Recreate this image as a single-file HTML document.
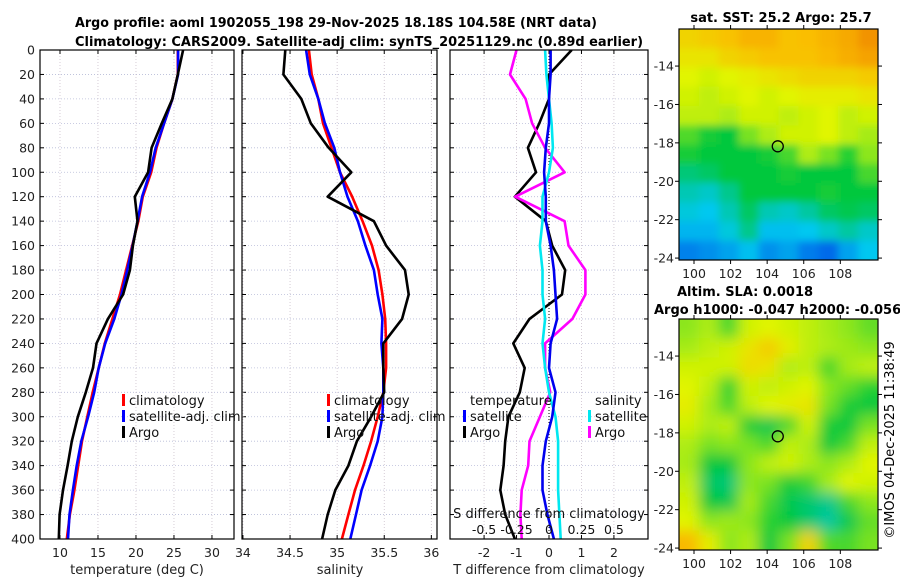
<!DOCTYPE html>
<html><head><meta charset="utf-8">
<style>
html,body{margin:0;padding:0;background:#fff;}
svg{display:block;font-family:"DejaVu Sans","Liberation Sans",sans-serif;}
</style></head>
<body>
<svg id="fig" width="900" height="580" viewBox="0 0 900 580" xmlns="http://www.w3.org/2000/svg">
<defs>
<filter id="blur1" x="-5%" y="-5%" width="110%" height="110%"><feGaussianBlur stdDeviation="4"/></filter>
<filter id="blur2" x="-5%" y="-5%" width="110%" height="110%"><feGaussianBlur stdDeviation="7"/></filter>
<clipPath id="clipMap1"><rect x="679" y="29" width="199" height="231"/></clipPath>
<clipPath id="clipMap2"><rect x="679" y="319" width="199" height="231"/></clipPath>
<clipPath id="clipP1"><rect x="40" y="50" width="194" height="489"/></clipPath>
<clipPath id="clipP2"><rect x="242" y="50" width="195" height="489"/></clipPath>
<clipPath id="clipP3"><rect x="450" y="50" width="198" height="489"/></clipPath>
</defs>
<text x="75" y="27" font-size="13" font-weight="bold" textLength="522" lengthAdjust="spacingAndGlyphs">Argo profile: aoml 1902055_198 29-Nov-2025 18.18S 104.58E (NRT data)</text>
<text x="75" y="46" font-size="13" font-weight="bold" textLength="568" lengthAdjust="spacingAndGlyphs">Climatology: CARS2009. Satellite-adj clim: synTS_20251129.nc (0.89d earlier)</text>
<text x="781" y="22" font-size="13" font-weight="bold" text-anchor="middle">sat. SST: 25.2 Argo: 25.7</text>
<text x="677" y="296" font-size="13" font-weight="bold">Altim. SLA: 0.0018</text>
<text x="654" y="314" font-size="13" font-weight="bold">Argo h1000: -0.047 h2000: -0.056</text>
<text transform="translate(894,440) rotate(-90)" font-size="13" text-anchor="middle">©IMOS 04-Dec-2025 11:38:49</text>
<g id="layer"></g>
</svg>
<script>
// ---- profile data ----
const depths = [0,20,40,60,80,100,120,140,160,180,200,220,240,260,280,300,320,340,360,380,400];
const climT = [25.5,25.5,24.8,23.7,22.7,22.0,20.9,20.3,19.5,18.7,17.9,16.9,15.9,15.1,14.3,13.6,12.9,12.4,11.9,11.3,10.9];
const satT  = [25.55,25.55,24.8,23.7,22.6,21.85,20.8,20.2,19.55,18.85,18.1,17.15,15.95,15.1,14.5,13.7,12.8,12.2,11.7,11.25,11.05];
const argoT = [26.2,25.5,24.8,23.4,22.05,21.6,19.85,20.2,19.6,19.2,18.3,16.3,14.8,14.35,13.4,12.35,11.55,11.0,10.4,9.95,9.85];
const climS = [34.70,34.73,34.80,34.85,34.94,35.03,35.16,35.27,35.37,35.44,35.48,35.51,35.52,35.52,35.49,35.43,35.36,35.28,35.19,35.12,35.05];
const satS  = [34.67,34.71,34.80,34.87,34.97,35.03,35.11,35.22,35.30,35.39,35.43,35.48,35.47,35.49,35.49,35.48,35.43,35.35,35.26,35.20,35.14];
const argoS = [34.45,34.43,34.62,34.72,34.91,35.15,34.90,35.39,35.52,35.72,35.76,35.69,35.49,35.49,35.50,35.36,35.21,35.12,34.98,34.90,34.84];
const depthTicks = [0,20,40,60,80,100,120,140,160,180,200,220,240,260,280,300,320,340,360,380,400];
const tTicks = [10,15,20,25,30];
const sTicks = [34,34.5,35,35.5,36];
const sTickLabels = ["34","34.5","35","35.5","36"];
const dTTicks = [-2,-1,0,1,2];
const dSTicks = [-0.5,-0.25,0,0.25,0.5];
const dSTickLabels = ["-0.5","-0.25","0","0.25","0.5"];
// ---- map data (normalised colour values 0..1), rows north->south ----
const mapLonTicks = [100,102,104,106,108];
const mapLatTicks = [-14,-16,-18,-20,-22,-24];
const sstGrid = [
[0.8,0.82,0.84,0.87,0.87,0.84,0.85,0.87,0.89,0.93],
[0.76,0.76,0.8,0.82,0.84,0.84,0.84,0.86,0.88,0.9],
[0.72,0.7,0.72,0.74,0.76,0.78,0.8,0.8,0.8,0.82],
[0.7,0.68,0.7,0.72,0.7,0.72,0.74,0.74,0.74,0.76],
[0.68,0.68,0.66,0.7,0.7,0.68,0.7,0.72,0.68,0.7],
[0.56,0.5,0.48,0.6,0.66,0.7,0.7,0.72,0.68,0.65],
[0.5,0.48,0.48,0.48,0.5,0.55,0.66,0.6,0.52,0.62],
[0.42,0.44,0.48,0.48,0.48,0.5,0.48,0.48,0.48,0.55],
[0.36,0.34,0.4,0.48,0.48,0.48,0.48,0.5,0.48,0.48],
[0.32,0.3,0.36,0.44,0.36,0.34,0.38,0.44,0.46,0.44],
[0.26,0.26,0.32,0.4,0.28,0.28,0.3,0.34,0.38,0.34],
[0.15,0.18,0.22,0.28,0.18,0.22,0.14,0.1,0.22,0.3]];
const slaGrid = [
[0.62,0.66,0.55,0.7,0.72,0.7,0.68,0.65,0.62,0.58],
[0.65,0.68,0.7,0.76,0.82,0.74,0.68,0.66,0.64,0.62],
[0.7,0.7,0.7,0.78,0.76,0.66,0.68,0.54,0.65,0.68],
[0.72,0.68,0.52,0.7,0.68,0.7,0.72,0.62,0.58,0.52],
[0.74,0.65,0.55,0.68,0.72,0.74,0.76,0.6,0.5,0.48],
[0.7,0.66,0.68,0.5,0.46,0.55,0.7,0.5,0.48,0.6],
[0.66,0.6,0.62,0.6,0.55,0.68,0.66,0.48,0.55,0.68],
[0.65,0.48,0.48,0.62,0.68,0.7,0.66,0.62,0.66,0.72],
[0.68,0.44,0.42,0.62,0.6,0.5,0.54,0.65,0.72,0.7],
[0.7,0.48,0.46,0.65,0.55,0.46,0.43,0.4,0.55,0.62],
[0.72,0.62,0.64,0.62,0.52,0.48,0.43,0.38,0.46,0.58],
[0.86,0.74,0.62,0.66,0.48,0.6,0.8,0.56,0.55,0.6]];
const argoLon = 104.58;
const argoLat = -18.18;

const NS = "http://www.w3.org/2000/svg";
const layer = document.getElementById('layer');
function mk(tag, attrs, parent) {
  const e = document.createElementNS(NS, tag);
  for (const k in attrs) e.setAttribute(k, attrs[k]);
  (parent || layer).appendChild(e);
  return e;
}
const Y0 = 50, Y1 = 539;
function yD(d) { return Y0 + d * (Y1 - Y0) / 400; }
const p1 = {x0:40, x1:234, v0:7.37, v1:32.9};
const p2 = {x0:242, x1:437, v0:33.99, v1:36.06};
const p3 = {x0:450, x1:648, v0:-3.05, v1:3.05};
function sx(p, v) { return p.x0 + (v - p.v0) * (p.x1 - p.x0) / (p.v1 - p.v0); }
function xDS(v) { return sx(p3, v * 4); }

function panelFrame(p, name, xticks, xlabels, yLabels) {
  const g = mk('g', {});
  
  
  depthTicks.forEach(d => {
    const l = mk('line', {x1:p.x0, x2:p.x1, y1:yD(d), y2:yD(d), stroke:'#b8bcd8', 'stroke-width':0.8, 'stroke-dasharray':'1,2'}, g);
    
    
    mk('line', {x1:p.x0, x2:p.x0+4, y1:yD(d), y2:yD(d), stroke:'#000', 'stroke-width':1}, g);
    mk('line', {x1:p.x1, x2:p.x1-4, y1:yD(d), y2:yD(d), stroke:'#000', 'stroke-width':1}, g);
    if (yLabels) {
      const t = mk('text', {x:p.x0-5, y:yD(d)+4.5, 'font-size':12.5, 'text-anchor':'end', fill:'#222'}, g);
      t.textContent = String(d);
      
      
    }
  });
  xticks.forEach((v, i) => {
    const x = sx(p, v);
    const l = mk('line', {x1:x, x2:x, y1:Y0, y2:Y1, stroke:'#ccc0cc', 'stroke-width':0.8, 'stroke-dasharray':'1,2'}, g);
    
    
    mk('line', {x1:x, x2:x, y1:Y1, y2:Y1-4, stroke:'#000'}, g);
    mk('line', {x1:x, x2:x, y1:Y0, y2:Y0+4, stroke:'#000'}, g);
    const t = mk('text', {x:x, y:557, 'font-size':12.5, 'text-anchor':'middle', fill:'#222'}, g);
    t.textContent = xlabels[i];
    
    
  });
  return g;
}
function frameRect(p, name) {
  const r = mk('rect', {x:p.x0, y:Y0, width:p.x1-p.x0, height:Y1-Y0, fill:'none', stroke:'#000', 'stroke-width':1.2});
  
  
}
function profile(p, vals, color, name, clip, xf) {
  const pts = vals.map((v, i) => (xf ? xf(v) : sx(p, v)).toFixed(1) + ',' + yD(depths[i]).toFixed(1)).join(' ');
  const pl = mk('polyline', {points:pts, fill:'none', stroke:color, 'stroke-width':2.6, 'stroke-linejoin':'round', 'clip-path':'url(#' + clip + ')'});
  
  
}
function xlab(x, txt, name) {
  const t = mk('text', {x:x, y:574, 'font-size':13, 'text-anchor':'middle', fill:'#222'});
  t.textContent = txt;
  
  
}
function legend(x, y, color, txt, name) {
  const g = mk('g', {});
  
  
  if (color) mk('rect', {x:x, y:y-10, width:3, height:12, fill:color}, g);
  const t = mk('text', {x:x+7, y:y+1, 'font-size':13, fill:'#111'}, g);
  t.textContent = txt;
}

// panel 1: temperature
panelFrame(p1, 'temperature-panel', tTicks, tTicks.map(String), true);
profile(p1, climT, '#ff0000', 'climatology-temperature-line', 'clipP1');
profile(p1, satT, '#0000ff', 'satellite-temperature-line', 'clipP1');
profile(p1, argoT, '#000000', 'argo-temperature-line', 'clipP1');
frameRect(p1, 'temperature-axes-frame');
xlab(137, 'temperature (deg C)', 'temperature-x-axis-title');
legend(122, 404, '#ff0000', 'climatology', 'legend-climatology');
legend(122, 420, '#0000ff', 'satellite-adj. clim', 'legend-satellite');
legend(122, 436, '#000000', 'Argo', 'legend-argo');

// panel 2: salinity
panelFrame(p2, 'salinity-panel', sTicks, sTickLabels, false);
profile(p2, climS, '#ff0000', 'climatology-salinity-line', 'clipP2');
profile(p2, satS, '#0000ff', 'satellite-salinity-line', 'clipP2');
profile(p2, argoS, '#000000', 'argo-salinity-line', 'clipP2');
frameRect(p2, 'salinity-axes-frame');
xlab(340, 'salinity', 'salinity-x-axis-title');
legend(327, 404, '#ff0000', 'climatology', 'legend-climatology-2');
legend(327, 420, '#0000ff', 'satellite-adj. clim', 'legend-satellite-2');
legend(327, 436, '#000000', 'Argo', 'legend-argo-2');

// panel 3: differences
panelFrame(p3, 'difference-panel', dTTicks, dTTicks.map(String), false);
const zl = mk('line', {x1:sx(p3,0), x2:sx(p3,0), y1:Y0, y2:Y1, stroke:'#000', 'stroke-width':1, 'stroke-dasharray':'1,2'});


const satSD = satS.map((v, i) => v - climS[i]);
const argoSD = argoS.map((v, i) => v - climS[i]);
const satTD = satT.map((v, i) => v - climT[i]);
const argoTD = argoT.map((v, i) => v - climT[i]);
profile(p3, argoTD, '#000000', 'argo-temperature-diff-line', 'clipP3');
profile(p3, argoSD, '#ff00ff', 'argo-salinity-diff-line', 'clipP3', xDS);
profile(p3, satSD, '#00e8f0', 'satellite-salinity-diff-line', 'clipP3', xDS);
profile(p3, satTD, '#0000ee', 'satellite-temperature-diff-line', 'clipP3');
frameRect(p3, 'difference-axes-frame');
xlab(549, 'T difference from climatology', 'temperature-diff-x-axis-title');
const sdt = mk('text', {x:549, y:518, 'font-size':13, 'text-anchor':'middle', fill:'#111'});
sdt.textContent = 'S difference from climatology';


dSTicks.forEach((v, i) => {
  const t = mk('text', {x:xDS(v), y:534, 'font-size':12.5, 'text-anchor':'middle', fill:'#111'});
  t.textContent = dSTickLabels[i];
  
  
});
const tl1 = mk('text', {x:470, y:405, 'font-size':13, fill:'#111'});
tl1.textContent = 'temperature';


legend(463, 420, '#0000ff', 'satellite', 'legend-temp-satellite');
legend(463, 436, '#000000', 'Argo', 'legend-temp-argo');
const tl2 = mk('text', {x:595, y:405, 'font-size':13, fill:'#111'});
tl2.textContent = 'salinity';


legend(588, 420, '#00e8f0', 'satellite', 'legend-sal-satellite');
legend(588, 436, '#ff00ff', 'Argo', 'legend-sal-argo');

// ---- maps ----
function cmap(v) {
  const stops = [[0,[0,60,230]],[0.3,[0,200,240]],[0.48,[0,200,60]],[0.62,[140,230,30]],[0.72,[225,245,0]],[0.85,[250,190,0]],[1,[235,110,0]]];
  for (let i = 1; i < stops.length; i++) {
    if (v <= stops[i][0]) {
      const a = stops[i-1], b = stops[i], f = (v - a[0]) / (b[0] - a[0]);
      return 'rgb(' + a[1].map((c, k) => Math.round(c + (b[1][k] - c) * f)).join(',') + ')';
    }
  }
  return 'rgb(235,110,0)';
}
const MX0 = 679, MX1 = 878, LON0 = 99.18, LON1 = 110.06, LAT0 = -12.07, LAT1 = -24.1;
function mapX(lon) { return MX0 + (lon - LON0) * (MX1 - MX0) / (LON1 - LON0); }
function drawMap(top, grid, clip, name, filt) {
  const H = 231;
  function mapY(lat) { return top + (LAT0 - lat) * H / (LAT0 - LAT1); }
  const g = mk('g', {'clip-path':'url(#' + clip + ')'});
  
  
  const inner = mk('g', {filter:'url(#' + filt + ')'}, g);
  const rows = grid.length, cols = grid[0].length;
  const cw = (MX1 - MX0) / cols, ch = H / rows;
  grid.forEach((row, r) => row.forEach((v, c) => {
    const cell = mk('rect', {x:MX0 + c*cw - 14*(c===0) , y:top + r*ch - 14*(r===0), width:cw + 1 + 14*(c===0) + 14*(c===cols-1), height:ch + 1 + 14*(r===0) + 14*(r===rows-1), fill:cmap(v)}, inner);
    
    
  }));
  const fr = mk('rect', {x:MX0, y:top, width:MX1-MX0, height:H, fill:'none', stroke:'#000', 'stroke-width':1.2});
  
  
  mapLatTicks.forEach(lat => {
    const y = mapY(lat);
    mk('line', {x1:MX0, x2:MX0-4, y1:y, y2:y, stroke:'#000'});
    mk('line', {x1:MX1, x2:MX1+4, y1:y, y2:y, stroke:'#000'});
    const t = mk('text', {x:MX0-5, y:y+4.5, 'font-size':12.5, 'text-anchor':'end', fill:'#222'});
    t.textContent = String(lat);
    
    
  });
  mapLonTicks.forEach(lon => {
    const x = mapX(lon);
    mk('line', {x1:x, x2:x, y1:top+H, y2:top+H+4, stroke:'#000'});
    mk('line', {x1:x, x2:x, y1:top, y2:top-4, stroke:'#000'});
    const t = mk('text', {x:x, y:top+H+18, 'font-size':12.5, 'text-anchor':'middle', fill:'#222'});
    t.textContent = String(lon);
    
    
  });
  const c = mk('circle', {cx:mapX(argoLon), cy:mapY(argoLat), r:5.5, fill:'none', stroke:'#000', 'stroke-width':1.3});
  
  
}
drawMap(29, sstGrid, 'clipMap1', 'sst-map', 'blur1');
drawMap(319, slaGrid, 'clipMap2', 'sla-map', 'blur2');
</script>
</body></html>
